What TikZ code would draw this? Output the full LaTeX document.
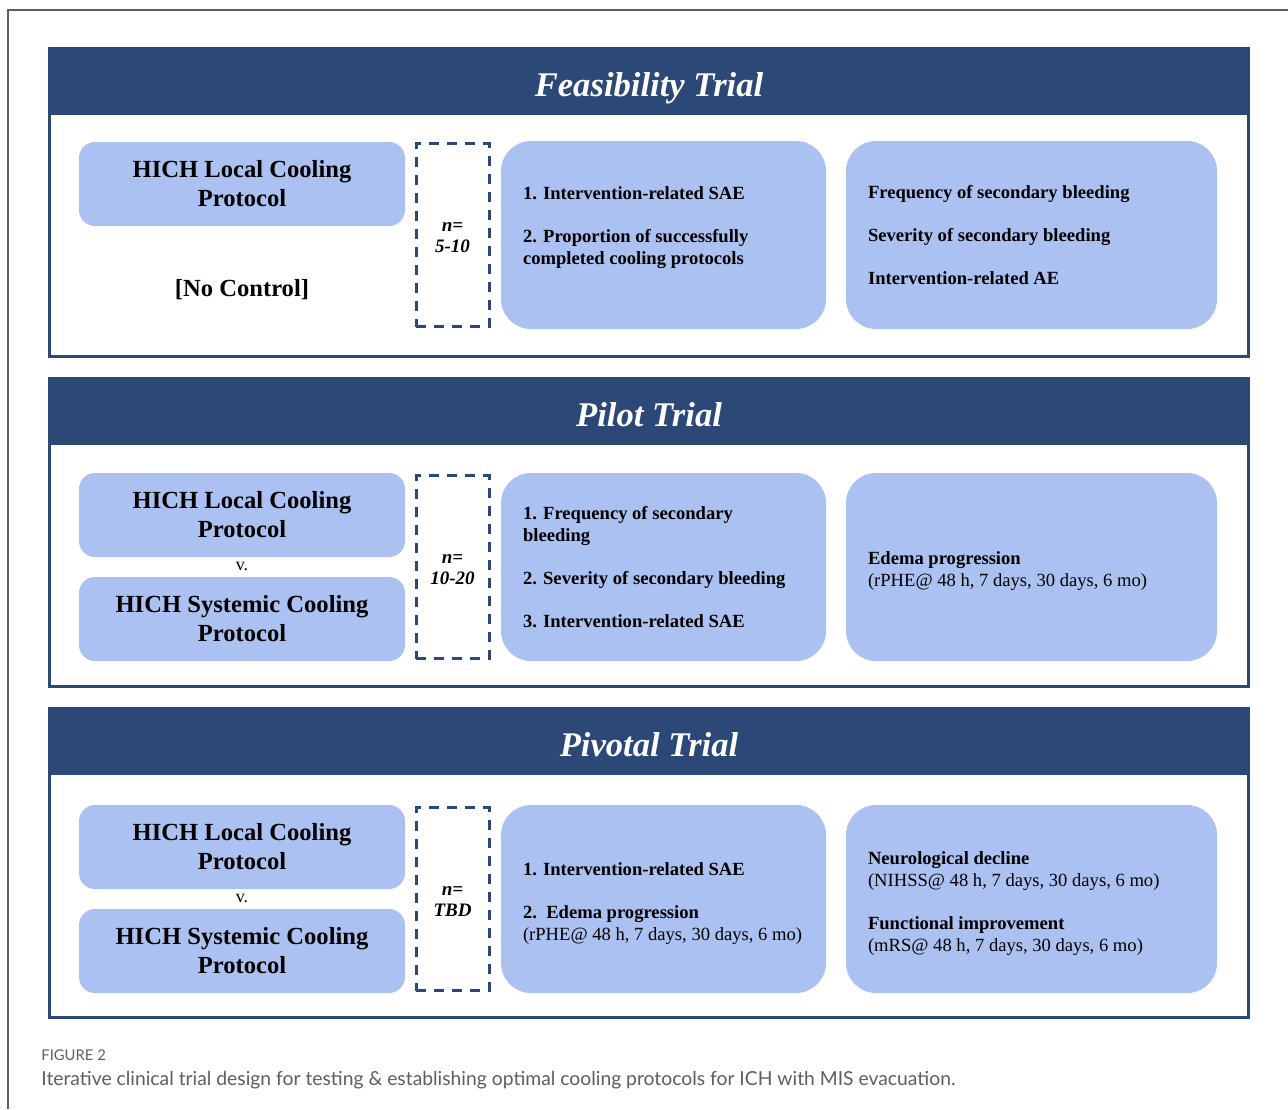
\documentclass[tikz,border=0pt]{standalone}
\usepackage{fontspec}
\setmainfont{Liberation Serif}
\newfontfamily\capfont{Lato}
\usepackage{tikz}
\usetikzlibrary{positioning}

\definecolor{trialnavy}{HTML}{2C4876}
\definecolor{boxblue}{HTML}{ABC1F1}
\definecolor{capgray}{HTML}{5E5E5E}

\tikzset{
    panelframe/.style={draw=trialnavy, line width=1.5pt},
    trialtitle/.style={anchor=base, text=white, font=\fontsize{17.3}{20}\selectfont\bfseries\itshape},
    protobox/.style={fill=boxblue, rounded corners=8pt, minimum width=163pt, minimum height=42pt,
        align=center, inner sep=0pt, font=\fontsize{12.3}{14.5}\selectfont\bfseries},
    nbox/.style={draw=trialnavy, line width=1.5pt, dash pattern=on 5pt off 4pt,
        minimum width=36.5pt, minimum height=91.5pt, inner sep=0pt, align=center,
        font=\fontsize{9.5}{10.5}\selectfont\bfseries\itshape},
    midbox/.style={fill=boxblue, rounded corners=15pt, minimum width=162.5pt, minimum height=94pt, inner sep=0pt},
    outbox/.style={midbox, minimum width=185.5pt},
    boxtext/.style={anchor=west, align=left, inner sep=0pt, font=\fontsize{9.3}{11}\selectfont\bfseries},
    vstext/.style={font=\fontsize{9}{10}\selectfont, inner sep=0pt}
}

\begin{document}
\begin{tikzpicture}[x=0.5pt,y=-0.5pt]
    \useasboundingbox (0,0) rectangle (1288,1109);
    %page frame
    \draw[capgray, line width=0.6pt] (8,1109) -- (8,10) -- (1288,10);

    %panels and headers
    \foreach \i/\top/\bot/\name in {1/47/358/Feasibility, 2/377/688/Pilot, 3/707/1019/Pivotal} {
        \fill[trialnavy] (48,\top) rectangle (1250,\top+68);
        \draw[panelframe] (49.5,\top+1.5) rectangle (1248.5,\bot-1.5);
        \node[trialtitle] (head\i) at (649,\top+49) {\name\ Trial};
    }

    %feasibility trial
    \node[protobox] (f-local) at (242,184) {HICH Local Cooling\\Protocol};
    \node[font=\fontsize{12.3}{14.5}\selectfont\bfseries, inner sep=0pt] (f-noctrl) at (242,290) {[No Control]};
    \node[nbox] (f-n) at (452.5,235) {\rule{0pt}{7.4pt}n=\\5-10};
    \node[midbox] (f-mid) at (663.5,235) {};
    \node[boxtext, yshift=3.5pt] (f-mid-t) at ([xshift=11pt]f-mid.west)
        {1. Intervention-related SAE\\[10.5pt]2. Proportion of successfully\\completed cooling protocols};
    \node[outbox] (f-out) at (1031.5,235) {};
    \node[boxtext] (f-out-t) at ([xshift=11pt]f-out.west)
        {Frequency of secondary bleeding\\[10.5pt]Severity of secondary bleeding\\[10.5pt]Intervention-related AE};

    %pilot trial
    \node[protobox] (p-local) at (242,515) {HICH Local Cooling\\Protocol};
    \node[vstext] (p-vs) at (242,566) {v.};
    \node[protobox] (p-sys) at (242,619) {HICH Systemic Cooling\\Protocol};
    \node[nbox] (p-n) at (452.5,567) {\rule{0pt}{7.4pt}n=\\10-20};
    \node[midbox] (p-mid) at (663.5,567) {};
    \node[boxtext] (p-mid-t) at ([xshift=11pt]p-mid.west)
        {1. Frequency of secondary\\bleeding\\[10.5pt]2. Severity of secondary bleeding\\[10.5pt]3. Intervention-related SAE};
    \node[outbox] (p-out) at (1031.5,567) {};
    \node[boxtext, yshift=-2pt] (p-out-t) at ([xshift=11pt]p-out.west)
        {Edema progression\\{\mdseries (rPHE@ 48 h, 7 days, 30 days, 6 mo)}};

    %pivotal trial
    \node[protobox] (v-local) at (242,847) {HICH Local Cooling\\Protocol};
    \node[vstext] (v-vs) at (242,898) {v.};
    \node[protobox] (v-sys) at (242,951) {HICH Systemic Cooling\\Protocol};
    \node[nbox] (v-n) at (452.5,899) {\rule{0pt}{7.4pt}n=\\TBD};
    \node[midbox] (v-mid) at (663.5,899) {};
    \node[boxtext, yshift=-2.5pt] (v-mid-t) at ([xshift=11pt]v-mid.west)
        {1. Intervention-related SAE\\[10.5pt]2.\ \ Edema progression\\{\mdseries (rPHE@ 48 h, 7 days, 30 days, 6 mo)}};
    \node[outbox] (v-out) at (1031.5,899) {};
    \node[boxtext, yshift=-2.5pt] (v-out-t) at ([xshift=11pt]v-out.west)
        {Neurological decline\\{\mdseries (NIHSS@ 48 h, 7 days, 30 days, 6 mo)}\\[10.5pt]Functional improvement\\{\mdseries (mRS@ 48 h, 7 days, 30 days, 6 mo)}};

    %caption
    \node[anchor=base west, inner sep=0pt, text=capgray, font=\capfont\fontsize{7.4}{8}\selectfont] (figlabel) at (41,1060) {FIGURE 2};
    \node[anchor=base west, inner sep=0pt, text=capgray, font=\capfont\fontsize{9.65}{11}\selectfont] (figcaption) at (41,1085)
        {Iterative clinical trial design for testing \& establishing optimal cooling protocols for ICH with MIS evacuation.};
\end{tikzpicture}
\end{document}
